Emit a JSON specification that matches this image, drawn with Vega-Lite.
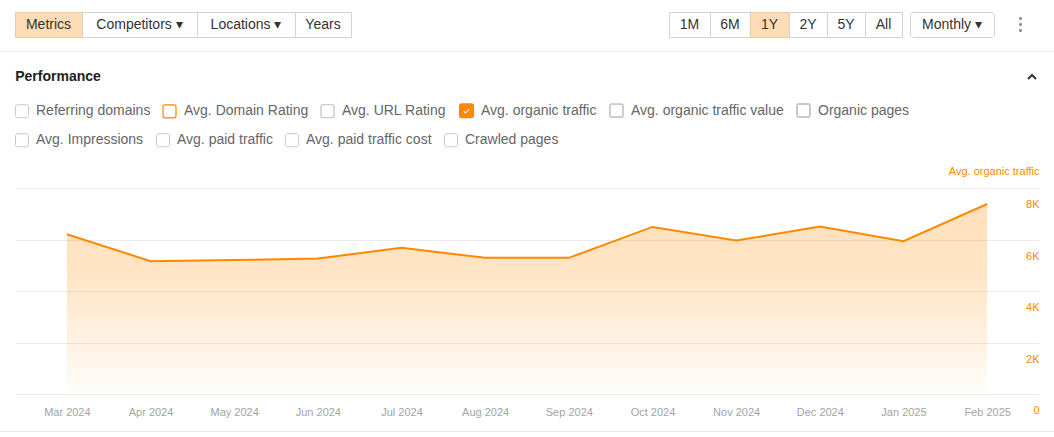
{
  "$schema": "https://vega.github.io/schema/vega-lite/v6.json",
  "padding": {"left": 0, "top": 11, "right": 0, "bottom": 0},
  "background": "#ffffff",
  "config": {
    "view": {"stroke": null},
    "font": "Liberation Sans",
    "legend": {"symbolSize": 169, "symbolOpacity": 1, "labelFontSize": 14, "labelColor": "#666666", "labelOffset": 7, "labelLimit": 400, "columnPadding": 9, "padding": 0}
  },
  "spacing": 0,
  "resolve": {"legend": {"fill": "independent", "stroke": "independent", "shape": "independent", "strokeWidth": "independent"}, "scale": {"fill": "independent", "stroke": "independent", "shape": "independent", "strokeWidth": "independent"}},
  "vconcat": [
    {
      "hconcat": [
        {"width": 15, "height": 25, "data": {"values": [{}]}, "mark": {"type": "text", "fontSize": 1}, "encoding": {"text": {"value": ""}}},
        {"width": 67, "height": 25, "view": {"fill": "#fddcb6", "stroke": "#efc9a0"}, "data": {"values": [{"label": "Metrics"}]}, "mark": {"type": "text", "fontSize": 14, "color": "#333333"}, "encoding": {"text": {"field": "label"}}},
        {"width": 115, "height": 25, "view": {"fill": "#ffffff", "stroke": "#d2d2d2"}, "data": {"values": [{"label": "Competitors  ▾"}]}, "mark": {"type": "text", "fontSize": 14, "color": "#333333"}, "encoding": {"text": {"field": "label"}}},
        {"width": 98, "height": 25, "view": {"fill": "#ffffff", "stroke": "#d2d2d2"}, "data": {"values": [{"label": "Locations  ▾"}]}, "mark": {"type": "text", "fontSize": 14, "color": "#333333"}, "encoding": {"text": {"field": "label"}}},
        {"width": 56, "height": 25, "view": {"fill": "#ffffff", "stroke": "#d2d2d2"}, "data": {"values": [{"label": "Years"}]}, "mark": {"type": "text", "fontSize": 14, "color": "#333333"}, "encoding": {"text": {"field": "label"}}},
        {"width": 318, "height": 25, "data": {"values": [{}]}, "mark": {"type": "text", "fontSize": 1}, "encoding": {"text": {"value": ""}}},
        {"width": 41, "height": 25, "view": {"fill": "#ffffff", "stroke": "#d2d2d2"}, "data": {"values": [{"label": "1M"}]}, "mark": {"type": "text", "fontSize": 14, "color": "#333333"}, "encoding": {"text": {"field": "label"}}},
        {"width": 40, "height": 25, "view": {"fill": "#ffffff", "stroke": "#d2d2d2"}, "data": {"values": [{"label": "6M"}]}, "mark": {"type": "text", "fontSize": 14, "color": "#333333"}, "encoding": {"text": {"field": "label"}}},
        {"width": 39, "height": 25, "view": {"fill": "#fddcb6", "stroke": "#efc9a0"}, "data": {"values": [{"label": "1Y"}]}, "mark": {"type": "text", "fontSize": 14, "color": "#333333"}, "encoding": {"text": {"field": "label"}}},
        {"width": 38, "height": 25, "view": {"fill": "#ffffff", "stroke": "#d2d2d2"}, "data": {"values": [{"label": "2Y"}]}, "mark": {"type": "text", "fontSize": 14, "color": "#333333"}, "encoding": {"text": {"field": "label"}}},
        {"width": 38, "height": 25, "view": {"fill": "#ffffff", "stroke": "#d2d2d2"}, "data": {"values": [{"label": "5Y"}]}, "mark": {"type": "text", "fontSize": 14, "color": "#333333"}, "encoding": {"text": {"field": "label"}}},
        {"width": 37, "height": 25, "view": {"fill": "#ffffff", "stroke": "#d2d2d2"}, "data": {"values": [{"label": "All"}]}, "mark": {"type": "text", "fontSize": 14, "color": "#333333"}, "encoding": {"text": {"field": "label"}}},
        {"width": 8, "height": 25, "data": {"values": [{}]}, "mark": {"type": "text", "fontSize": 1}, "encoding": {"text": {"value": ""}}},
        {"width": 84, "height": 25, "view": {"fill": "#ffffff", "stroke": "#d2d2d2", "cornerRadius": 3}, "data": {"values": [{"label": "Monthly  ▾"}]}, "mark": {"type": "text", "fontSize": 14, "color": "#333333"}, "encoding": {"text": {"field": "label"}}},
        {"width": 16, "height": 25, "data": {"values": [{}]}, "mark": {"type": "text", "fontSize": 1}, "encoding": {"text": {"value": ""}}},
        {"width": 21, "height": 25, "data": {"values": [{}]}, "mark": {"type": "point", "filled": true, "color": "#8a8a8a", "opacity": 1, "size": 144, "shape": "M0,-1.25A0.25,0.25 0 1 1 0,-0.75A0.25,0.25 0 1 1 0,-1.25Z M0,-0.25A0.25,0.25 0 1 1 0,0.25A0.25,0.25 0 1 1 0,-0.25Z M0,0.75A0.25,0.25 0 1 1 0,1.25A0.25,0.25 0 1 1 0,0.75Z"}, "encoding": {}}
      ],
      "spacing": 0,
      "bounds": "flush"
    },
    {"width": 1054, "height": 12, "data": {"values": [{}]}, "mark": {"type": "text", "fontSize": 1}, "encoding": {"text": {"value": ""}}},
    {"width": 1054, "height": 1, "view": {"fill": "#e8e8e8"}, "data": {"values": [{}]}, "mark": {"type": "text", "fontSize": 1}, "encoding": {"text": {"value": ""}}},
    {"width": 1054, "height": 18, "data": {"values": [{}]}, "mark": {"type": "text", "fontSize": 1}, "encoding": {"text": {"value": ""}}},
    {
      "hconcat": [
        {"width": 15, "height": 14, "data": {"values": [{}]}, "mark": {"type": "text", "fontSize": 1}, "encoding": {"text": {"value": ""}}},
        {"width": 86, "height": 14, "data": {"values": [{"label": "Performance"}]}, "mark": {"type": "text", "fontSize": 14, "fontWeight": "bold", "color": "#222222"}, "encoding": {"text": {"field": "label"}}},
        {"width": 923, "height": 14, "data": {"values": [{}]}, "mark": {"type": "text", "fontSize": 1}, "encoding": {"text": {"value": ""}}},
        {"width": 16, "height": 14, "data": {"values": [{}]}, "mark": {"type": "point", "filled": false, "color": "#333333", "strokeWidth": 2, "opacity": 1, "size": 64, "shape": "M-1,0.5L0,-0.5L1,0.5"}, "encoding": {}}
      ],
      "spacing": 0
    },
    {"width": 1054, "height": 19, "data": {"values": [{}]}, "mark": {"type": "text", "fontSize": 1}, "encoding": {"text": {"value": ""}}},
    {
      "resolve": {"legend": {"fill": "independent", "stroke": "independent", "shape": "independent", "strokeWidth": "independent"}, "scale": {"fill": "independent", "stroke": "independent", "shape": "independent", "strokeWidth": "independent"}},
      "hconcat": [
        {"width": 15, "height": 10, "data": {"values": [{}]}, "mark": {"type": "text", "fontSize": 1}, "encoding": {"text": {"value": ""}}},
        {
          "width": 1024,
          "height": 206,
          "data": {"values": [
            {"month": "Mar 2024", "traffic": 6206},
            {"month": "Apr 2024", "traffic": 5160},
            {"month": "May 2024", "traffic": 5203},
            {"month": "Jun 2024", "traffic": 5261},
            {"month": "Jul 2024", "traffic": 5675},
            {"month": "Aug 2024", "traffic": 5288},
            {"month": "Sep 2024", "traffic": 5288},
            {"month": "Oct 2024", "traffic": 6489},
            {"month": "Nov 2024", "traffic": 5958},
            {"month": "Dec 2024", "traffic": 6500},
            {"month": "Jan 2025", "traffic": 5935},
            {"month": "Feb 2025", "traffic": 7380}
          ]},
          "resolve": {"legend": {"fill": "independent", "stroke": "independent", "shape": "independent", "strokeWidth": "independent"}, "scale": {"fill": "independent", "stroke": "independent", "shape": "independent", "strokeWidth": "independent"}},
          "layer": [
            {
              "mark": {"type": "area", "color": {"gradient": "linear", "x1": 0, "y1": 0, "x2": 0, "y2": 1, "stops": [
                {"offset": 0, "color": "rgba(255,140,0,0.27)"},
                {"offset": 0.4, "color": "rgba(255,140,0,0.22)"},
                {"offset": 0.7, "color": "rgba(255,140,0,0.12)"},
                {"offset": 1, "color": "rgba(255,140,0,0.02)"}
              ]}},
              "encoding": {
                "x": {"field": "month", "type": "ordinal", "sort": null, "scale": {"type": "point", "padding": 0.62},
                  "axis": {"title": null, "domain": false, "ticks": false, "tickSize": 0, "labelPadding": 12.5, "labelBaseline": "top", "labelAngle": 0, "labelColor": "#a3a3a3", "labelFontSize": 11, "grid": false}},
                "y": {"field": "traffic", "type": "quantitative", "scale": {"domain": [0, 8000], "nice": false},
                  "axis": {"orient": "right", "title": "Avg. organic traffic", "titleAngle": 0, "titleAlign": "right", "titleBaseline": "middle", "titleX": 0, "titleY": -17, "titleColor": "#ff8800", "titleFontSize": 11, "titleFontWeight": "normal",
                    "values": [0, 2000, 4000, 6000, 8000], "labelExpr": "datum.value == 0 ? '0' : (datum.value / 1000) + 'K'",
                    "labelColor": "#ff8800", "labelFontSize": 11, "labelAlign": "right", "labelPadding": 0, "labelOffset": 16.5, "labelFlush": false, "labelOverlap": false,
                    "ticks": false, "tickSize": 0, "domain": false, "grid": true, "gridColor": "#ebebeb"}}
              }
            },
            {
              "mark": {"type": "line", "color": "#ff8800", "strokeWidth": 2},
              "encoding": {
                "x": {"field": "month", "type": "ordinal", "sort": null},
                "y": {"field": "traffic", "type": "quantitative"}
              }
            },
            {
              "data": {"values": [
                {"metric": "Referring domains"},
                {"metric": "Avg. Domain Rating"},
                {"metric": "Avg. URL Rating"},
                {"metric": "Avg. organic traffic"},
                {"metric": "Avg. organic traffic value"},
                {"metric": "Organic pages"}
              ]},
              "mark": {"type": "point", "opacity": 0},
              "encoding": {
                "fill": {"field": "metric", "type": "nominal",
                  "scale": {"domain": ["Referring domains", "Avg. Domain Rating", "Avg. URL Rating", "Avg. organic traffic", "Avg. organic traffic value", "Organic pages"],
                    "range": ["#ffffff", "#ffffff", "#ffffff", "#ff8800", "#ffffff", "#ffffff"]},
                  "legend": {"title": null, "orient": "none", "legendX": 0, "legendY": -85, "direction": "horizontal",
                    "encode": {"labels": {"fill": {"condition": {"test": "datum.value === 'Avg. organic traffic'", "value": "#222222"}, "value": "#666666"}}}}},
                "stroke": {"field": "metric", "type": "nominal",
                  "scale": {"domain": ["Referring domains", "Avg. Domain Rating", "Avg. URL Rating", "Avg. organic traffic", "Avg. organic traffic value", "Organic pages"],
                    "range": ["#c9c9c9", "#ff8800", "#c9c9c9", "#ff8800", "#c9c9c9", "#c9c9c9"]},
                  "legend": {"title": null, "orient": "none", "legendX": 0, "legendY": -85, "direction": "horizontal"}},
                "shape": {"field": "metric", "type": "nominal",
                  "scale": {"domain": ["Referring domains", "Avg. Domain Rating", "Avg. URL Rating", "Avg. organic traffic", "Avg. organic traffic value", "Organic pages"],
                    "range": [
                      "M-0.7,-1H0.7A0.3,0.3 0 0 1 1,-0.7V0.7A0.3,0.3 0 0 1 0.7,1H-0.7A0.3,0.3 0 0 1 -1,0.7V-0.7A0.3,0.3 0 0 1 -0.7,-1Z",
                      "M-0.7,-1H0.7A0.3,0.3 0 0 1 1,-0.7V0.7A0.3,0.3 0 0 1 0.7,1H-0.7A0.3,0.3 0 0 1 -1,0.7V-0.7A0.3,0.3 0 0 1 -0.7,-1Z",
                      "M-0.7,-1H0.7A0.3,0.3 0 0 1 1,-0.7V0.7A0.3,0.3 0 0 1 0.7,1H-0.7A0.3,0.3 0 0 1 -1,0.7V-0.7A0.3,0.3 0 0 1 -0.7,-1Z",
                      "M-0.74,-1.04H0.74A0.3,0.3 0 0 1 1.04,-0.74V0.74A0.3,0.3 0 0 1 0.74,1.04H-0.74A0.3,0.3 0 0 1 -1.04,0.74V-0.74A0.3,0.3 0 0 1 -0.74,-1.04Z M-0.359,-0.161L-0.641,0.121L-0.14,0.61L0.664,-0.211L0.376,-0.489L-0.14,0.05Z",
                      "M-0.7,-1H0.7A0.3,0.3 0 0 1 1,-0.7V0.7A0.3,0.3 0 0 1 0.7,1H-0.7A0.3,0.3 0 0 1 -1,0.7V-0.7A0.3,0.3 0 0 1 -0.7,-1Z",
                      "M-0.7,-1H0.7A0.3,0.3 0 0 1 1,-0.7V0.7A0.3,0.3 0 0 1 0.7,1H-0.7A0.3,0.3 0 0 1 -1,0.7V-0.7A0.3,0.3 0 0 1 -0.7,-1Z"
                    ]},
                  "legend": {"title": null, "orient": "none", "legendX": 0, "legendY": -85, "direction": "horizontal"}},
                "strokeWidth": {"field": "metric", "type": "nominal",
                  "scale": {"domain": ["Referring domains", "Avg. Domain Rating", "Avg. URL Rating", "Avg. organic traffic", "Avg. organic traffic value", "Organic pages"],
                    "range": [1, 2, 1, 0, 1, 1]},
                  "legend": {"title": null, "orient": "none", "legendX": 0, "legendY": -85, "direction": "horizontal"}}
              }
            },
            {
              "data": {"values": [
                {"metric": "Avg. Impressions"},
                {"metric": "Avg. paid traffic"},
                {"metric": "Avg. paid traffic cost"},
                {"metric": "Crawled pages"}
              ]},
              "mark": {"type": "point", "opacity": 0},
              "encoding": {
                "fill": {"field": "metric", "type": "nominal",
                  "scale": {"domain": ["Avg. Impressions", "Avg. paid traffic", "Avg. paid traffic cost", "Crawled pages"],
                    "range": ["#ffffff", "#ffffff", "#ffffff", "#ffffff"]},
                  "legend": {"title": null, "orient": "none", "legendX": 0, "legendY": -55, "direction": "horizontal", "columnPadding": 10}},
                "stroke": {"field": "metric", "type": "nominal",
                  "scale": {"domain": ["Avg. Impressions", "Avg. paid traffic", "Avg. paid traffic cost", "Crawled pages"],
                    "range": ["#c9c9c9", "#c9c9c9", "#c9c9c9", "#c9c9c9"]},
                  "legend": {"title": null, "orient": "none", "legendX": 0, "legendY": -55, "direction": "horizontal", "columnPadding": 10}},
                "shape": {"field": "metric", "type": "nominal",
                  "scale": {"domain": ["Avg. Impressions", "Avg. paid traffic", "Avg. paid traffic cost", "Crawled pages"],
                    "range": [
                      "M-0.7,-1H0.7A0.3,0.3 0 0 1 1,-0.7V0.7A0.3,0.3 0 0 1 0.7,1H-0.7A0.3,0.3 0 0 1 -1,0.7V-0.7A0.3,0.3 0 0 1 -0.7,-1Z",
                      "M-0.7,-1H0.7A0.3,0.3 0 0 1 1,-0.7V0.7A0.3,0.3 0 0 1 0.7,1H-0.7A0.3,0.3 0 0 1 -1,0.7V-0.7A0.3,0.3 0 0 1 -0.7,-1Z",
                      "M-0.7,-1H0.7A0.3,0.3 0 0 1 1,-0.7V0.7A0.3,0.3 0 0 1 0.7,1H-0.7A0.3,0.3 0 0 1 -1,0.7V-0.7A0.3,0.3 0 0 1 -0.7,-1Z",
                      "M-0.7,-1H0.7A0.3,0.3 0 0 1 1,-0.7V0.7A0.3,0.3 0 0 1 0.7,1H-0.7A0.3,0.3 0 0 1 -1,0.7V-0.7A0.3,0.3 0 0 1 -0.7,-1Z"
                    ]},
                  "legend": {"title": null, "orient": "none", "legendX": 0, "legendY": -55, "direction": "horizontal", "columnPadding": 10}},
                "strokeWidth": {"field": "metric", "type": "nominal",
                  "scale": {"domain": ["Avg. Impressions", "Avg. paid traffic", "Avg. paid traffic cost", "Crawled pages"],
                    "range": [1, 1, 1, 1]},
                  "legend": {"title": null, "orient": "none", "legendX": 0, "legendY": -55, "direction": "horizontal", "columnPadding": 10}}
              }
            }
          ]
        }
      ],
      "spacing": 0
    },
    {"width": 1054, "height": 12, "data": {"values": [{}]}, "mark": {"type": "text", "fontSize": 1}, "encoding": {"text": {"value": ""}}},
    {"width": 1054, "height": 1, "view": {"fill": "#e8e8e8"}, "data": {"values": [{}]}, "mark": {"type": "text", "fontSize": 1}, "encoding": {"text": {"value": ""}}}
  ]
}
